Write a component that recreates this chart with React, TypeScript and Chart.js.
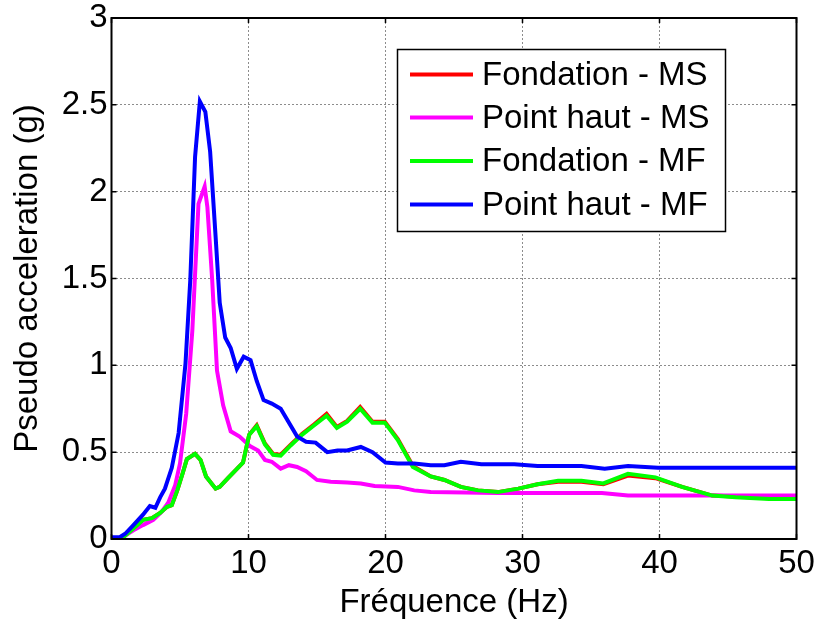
import React, { useEffect, useRef } from "react";
import { Chart, registerables } from "chart.js";

Chart.register(...registerables);

// ---- Data ----
const xTicks = [0, 10, 20, 30, 40, 50];
const yTicks = [0, 0.5, 1, 1.5, 2, 2.5, 3];

const seriesLabels = ["Fondation - MS", "Point haut - MS", "Fondation - MF", "Point haut - MF"];
const seriesColors = ["#ff0000", "#ff00ff", "#00ff00", "#0000ff"];

// Fondation - MF (green) and Fondation - MS (red) share frequencies
const freqFondation = [0, 0.7, 1.6, 2.3, 2.95, 3.55, 4.05, 4.4, 4.8, 5.2, 5.5, 6.1, 6.5, 6.9, 7.6, 7.9, 8.5, 9.6, 10.05, 10.6, 11.2, 11.8, 12.35, 13.1, 13.9, 14.8, 15.7, 16.45, 17.2, 18.15, 19.05, 19.95, 20.9, 22.0, 23.3, 24.3, 25.5, 26.75, 28.2, 29.7, 31.1, 32.6, 34.3, 35.9, 37.7, 39.7, 41.65, 43.85, 45.55, 48.0, 50];
const accFondationMF = [0, 0, 0.06, 0.11, 0.12, 0.15, 0.185, 0.195, 0.28, 0.38, 0.46, 0.49, 0.455, 0.36, 0.29, 0.3, 0.35, 0.44, 0.6, 0.65, 0.545, 0.485, 0.48, 0.54, 0.6, 0.655, 0.71, 0.64, 0.675, 0.75, 0.67, 0.67, 0.57, 0.415, 0.36, 0.34, 0.3, 0.28, 0.27, 0.29, 0.315, 0.335, 0.335, 0.32, 0.375, 0.355, 0.3, 0.25, 0.24, 0.23, 0.23];
const accFondationMS = [0, 0, 0.06, 0.11, 0.12, 0.15, 0.185, 0.195, 0.28, 0.38, 0.46, 0.49, 0.455, 0.36, 0.29, 0.3, 0.35, 0.44, 0.6, 0.655, 0.55, 0.49, 0.485, 0.545, 0.605, 0.66, 0.72, 0.645, 0.68, 0.76, 0.675, 0.675, 0.575, 0.42, 0.36, 0.34, 0.3, 0.28, 0.27, 0.29, 0.315, 0.33, 0.33, 0.315, 0.365, 0.35, 0.3, 0.25, 0.245, 0.235, 0.235];

// Point haut - MS (magenta)
const freqPointHautMS = [0, 0.6, 1.6, 2.3, 3.05, 3.7, 4.15, 4.65, 5.0, 5.45, 5.9, 6.35, 6.8, 7.0, 7.35, 7.7, 8.15, 8.7, 9.35, 10.1, 10.7, 11.2, 11.7, 12.35, 12.95, 13.55, 14.2, 15.0, 16.0, 17.2, 18.2, 19.2, 20.9, 22.1, 23.3, 28.2, 35.8, 37.7, 50];
const accPointHautMS = [0, 0, 0.05, 0.08, 0.11, 0.16, 0.21, 0.31, 0.435, 0.72, 1.2, 1.93, 2.03, 1.91, 1.49, 0.97, 0.77, 0.62, 0.59, 0.535, 0.51, 0.455, 0.445, 0.405, 0.425, 0.415, 0.39, 0.34, 0.33, 0.325, 0.32, 0.305, 0.3, 0.28, 0.27, 0.265, 0.265, 0.25, 0.25];

// Point haut - MF (blue)
const freqPointHautMF = [0, 0.6, 1.0, 1.6, 2.3, 2.8, 3.2, 3.55, 3.9, 4.4, 4.9, 5.4, 5.75, 6.1, 6.45, 6.85, 7.2, 7.6, 7.9, 8.3, 8.7, 9.15, 9.65, 10.15, 10.6, 11.1, 11.7, 12.35, 13.55, 14.2, 14.9, 15.75, 16.5, 17.2, 18.2, 19.05, 20.0, 20.9, 22.1, 23.3, 24.3, 25.5, 27, 29.4, 31.1, 34.3, 36.0, 37.7, 39.9, 50];
const accPointHautMF = [0.01, 0.01, 0.03, 0.08, 0.14, 0.19, 0.18, 0.24, 0.29, 0.41, 0.61, 1.01, 1.49, 2.2, 2.52, 2.46, 2.23, 1.74, 1.36, 1.16, 1.1, 0.98, 1.05, 1.03, 0.91, 0.8, 0.78, 0.75, 0.59, 0.56, 0.555, 0.5, 0.51, 0.51, 0.53, 0.5, 0.44, 0.435, 0.435, 0.425, 0.425, 0.445, 0.43, 0.43, 0.42, 0.42, 0.405, 0.42, 0.41, 0.41];

const FONT = '"Liberation Sans", Arial, Helvetica, sans-serif';

function pairs(xs: number[], ys: number[]) {
  return xs.map((x, i) => ({ x, y: ys[i] }));
}

const frameAndTicks = {
  id: "frameAndTicks",
  afterDatasetsDraw(chart: any) {
    const { ctx, chartArea: a, scales } = chart;
    const xs = scales.x;
    const ys = scales.y;
    ctx.save();
    ctx.strokeStyle = "#000";
    ctx.lineWidth = 1.5;
    const tl = 5;
    ctx.beginPath();
    xTicks.forEach((v) => {
      const px = xs.getPixelForValue(v);
      ctx.moveTo(px, a.bottom);
      ctx.lineTo(px, a.bottom - tl);
      ctx.moveTo(px, a.top);
      ctx.lineTo(px, a.top + tl);
    });
    yTicks.forEach((v) => {
      const py = ys.getPixelForValue(v);
      ctx.moveTo(a.left, py);
      ctx.lineTo(a.left + tl, py);
      ctx.moveTo(a.right, py);
      ctx.lineTo(a.right - tl, py);
    });
    ctx.stroke();
    ctx.lineWidth = 2;
    ctx.strokeRect(a.left, a.top, a.right - a.left, a.bottom - a.top);
    ctx.restore();
  },
};

const boxLegend = {
  id: "boxLegend",
  afterDraw(chart: any) {
    const { ctx } = chart;
    const x0 = 397.5, y0 = 49.5, w = 328, h = 182;
    ctx.save();
    ctx.fillStyle = "#fff";
    ctx.fillRect(x0, y0, w, h);
    ctx.strokeStyle = "#000";
    ctx.lineWidth = 1.5;
    ctx.strokeRect(x0, y0, w, h);
    const rows = [74.5, 117.5, 161, 204.5];
    ctx.font = `33px ${FONT}`;
    ctx.textBaseline = "middle";
    ctx.textAlign = "left";
    chart.data.datasets.forEach((ds: any, i: number) => {
      ctx.strokeStyle = ds.borderColor;
      ctx.lineWidth = 4;
      ctx.beginPath();
      ctx.moveTo(410, rows[i]);
      ctx.lineTo(473, rows[i]);
      ctx.stroke();
      ctx.fillStyle = "#000";
      ctx.fillText(ds.label, 482, rows[i] + 1);
    });
    ctx.restore();
  },
};

export default function App() {
  const ref = useRef<HTMLCanvasElement | null>(null);

  useEffect(() => {
    if (!ref.current) return;
    const dataSets = [
      pairs(freqFondation, accFondationMS),
      pairs(freqPointHautMS, accPointHautMS),
      pairs(freqFondation, accFondationMF),
      pairs(freqPointHautMF, accPointHautMF),
    ];
    const chart = new Chart(ref.current, {
      type: "line",
      data: {
        datasets: dataSets.map((d, i) => ({
          label: seriesLabels[i],
          data: d,
          borderColor: seriesColors[i],
          backgroundColor: seriesColors[i],
          borderWidth: 4,
          pointRadius: 0,
          tension: 0,
          fill: false,
          order: 4 - i,
        })),
      },
      options: {
        responsive: false,
        animation: false,
        events: [],
        layout: { padding: { left: 0, top: 18, right: 20.5, bottom: 0 } },
        plugins: {
          legend: { display: false },
          tooltip: { enabled: false },
          title: { display: false },
        },
        scales: {
          x: {
            type: "linear",
            min: 0,
            max: 50,
            afterFit: (s: any) => {
              s.height = 81;
              s.paddingLeft = 0;
              s.paddingRight = 0;
            },
            afterBuildTicks: (s: any) => {
              s.ticks = xTicks.map((v) => ({ value: v }));
            },
            ticks: {
              color: "#000",
              padding: 8,
              maxRotation: 0,
              font: { family: FONT, size: 33, lineHeight: 1 },
              callback: (v: any) => String(v),
            },
            grid: {
              color: "rgba(0,0,0,0.45)",
              lineWidth: 1,
              drawTicks: false,
            },
            border: { display: false, dash: [2, 2] },
            title: {
              display: true,
              text: "Fréquence (Hz)",
              color: "#000",
              font: { family: FONT, size: 33 },
              padding: { top: 0, bottom: -3 },
            },
          },
          y: {
            type: "linear",
            min: 0,
            max: 3,
            afterFit: (s: any) => {
              s.width = 111.5;
              s.paddingTop = 0;
              s.paddingBottom = 0;
            },
            afterBuildTicks: (s: any) => {
              s.ticks = yTicks.map((v) => ({ value: v }));
            },
            ticks: {
              color: "#000",
              padding: 4,
              font: { family: FONT, size: 33, lineHeight: 1 },
              callback: (v: any) => String(v),
            },
            grid: {
              color: "rgba(0,0,0,0.45)",
              lineWidth: 1,
              drawTicks: false,
            },
            border: { display: false, dash: [2, 2] },
            title: {
              display: true,
              text: "Pseudo acceleration (g)",
              color: "#000",
              font: { family: FONT, size: 33 },
              padding: { top: 8, bottom: 0 },
            },
          },
        },
      },
      plugins: [frameAndTicks, boxLegend],
    });
    return () => chart.destroy();
  }, []);

  return (
    <div style={{ position: "absolute", left: 0, top: 0, width: 817, height: 620, background: "#fff" }}>
      <canvas ref={ref} width={817} height={620} style={{ display: "block", width: 817, height: 620 }} />
    </div>
  );
}
